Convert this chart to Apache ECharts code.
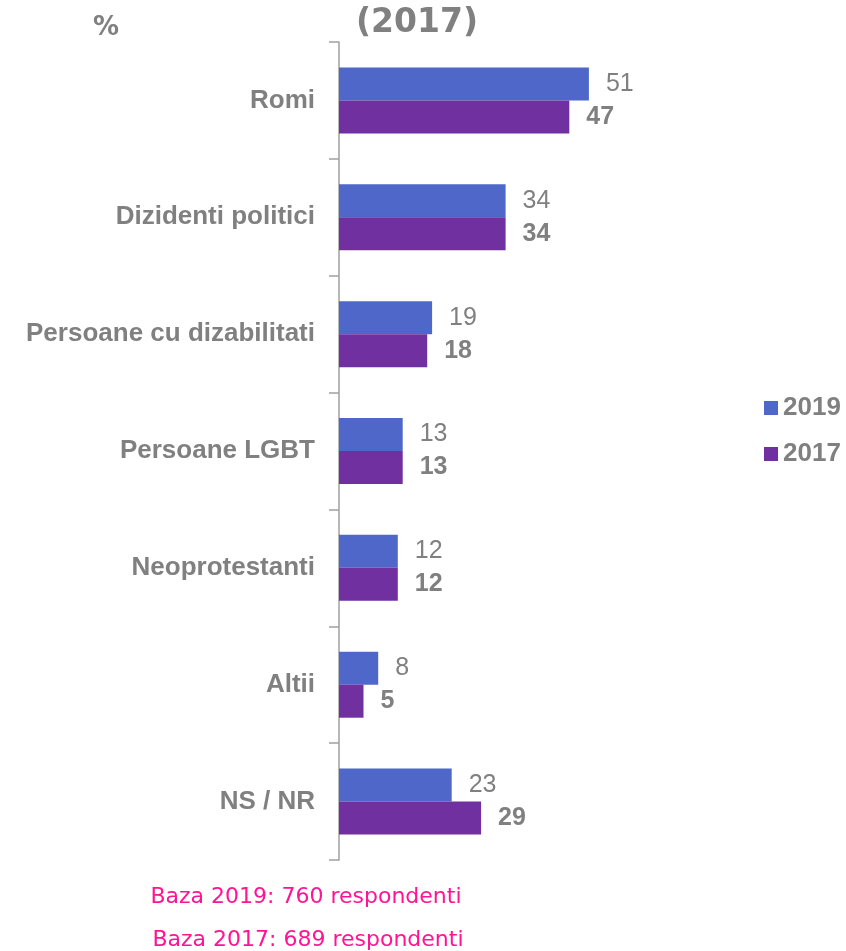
<!DOCTYPE html>
<html>
<head>
<meta charset="utf-8">
<script src="https://cdn.jsdelivr.net/npm/echarts@6/dist/echarts.min.js"></script>
<style>
  html, body { margin: 0; padding: 0; background: #fff; }
  #chart { width: 846px; height: 951px; }
</style>
</head>
<body>
<div id="chart"></div>
<script>
var categories = ['Romi', 'Dizidenti politici', 'Persoane cu dizabilitati', 'Persoane LGBT', 'Neoprotestanti', 'Altii', 'NS / NR'];
var values2019 = [51, 34, 19, 13, 12, 8, 23];
var values2017 = [47, 34, 18, 13, 12, 5, 29];
var seriesNames = ['2019', '2017'];

var chart = echarts.init(document.getElementById('chart'));
var gray = '#808080';

var option = {
    animation: false,
    title: [
        {
            text: '(2017)',
            left: 412, top: 2, textAlign: 'center',
            textStyle: { fontFamily: 'DejaVu Sans', fontSize: 33, fontWeight: 'bold', color: gray }
        },
        {
            text: '%',
            left: 101, top: 10, textAlign: 'center',
            textStyle: { fontFamily: 'DejaVu Sans', fontSize: 26, fontWeight: 'bold', color: gray }
        }
    ],
    legend: {
        orient: 'vertical',
        left: 759, top: 390,
        itemWidth: 14, itemHeight: 14, itemGap: 20,
        icon: 'rect',
        data: seriesNames,
        textStyle: { fontFamily: 'Liberation Sans', fontSize: 26, lineHeight: 26, fontWeight: 'bold', color: gray }
    },
    grid: { left: 339, top: 42, width: 490, height: 818 },
    xAxis: {
        type: 'value', min: 0, max: 100,
        show: false
    },
    yAxis: {
        type: 'category',
        inverse: true,
        data: categories,
        axisLine: { show: true, lineStyle: { color: '#a0a0a0', width: 1.5 } },
        axisTick: { show: true, inside: false, length: 10, lineStyle: { color: '#a0a0a0', width: 1.5 } },
        axisLabel: { margin: 24, fontFamily: 'Liberation Sans', fontSize: 26, fontWeight: 'bold', color: gray }
    },
    series: [
        {
            name: '2019', type: 'bar', data: values2019,
            barWidth: 33, barGap: '0%',
            itemStyle: { color: '#4f67c8' },
            label: { show: true, position: 'right', distance: 17, fontFamily: 'Liberation Sans', fontSize: 25, color: gray }
        },
        {
            name: '2017', type: 'bar', data: values2017,
            barWidth: 33,
            itemStyle: { color: '#7030a0' },
            label: { show: true, position: 'right', distance: 17, fontFamily: 'Liberation Sans', fontSize: 25, fontWeight: 'bold', color: gray }
        }
    ],
    graphic: [
        {
            type: 'text', x: 306, y: 897,
            style: { text: 'Baza 2019: 760 respondenti', fill: '#ff1493', font: '22px "DejaVu Sans"', align: 'center', verticalAlign: 'middle' }
        },
        {
            type: 'text', x: 308, y: 940,
            style: { text: 'Baza 2017: 689 respondenti', fill: '#ff1493', font: '22px "DejaVu Sans"', align: 'center', verticalAlign: 'middle' }
        }
    ]
};
chart.setOption(option);
</script>
</body>
</html>
